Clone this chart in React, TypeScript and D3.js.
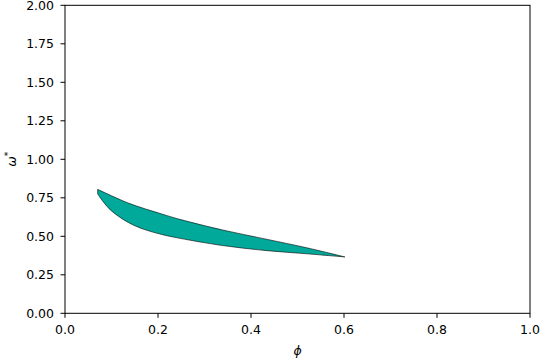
import React from "react";
import * as d3 from "d3";

const upperPhi = [0.0703, 0.136, 0.208, 0.247, 0.339, 0.43, 0.522, 0.602];
const upperOmega = [0.805, 0.716, 0.645, 0.61, 0.541, 0.483, 0.424, 0.366];
const lowerPhi = [0.0703, 0.082, 0.1, 0.136, 0.17, 0.208, 0.247, 0.339, 0.43, 0.522, 0.602];
const lowerOmega = [0.775, 0.725, 0.665, 0.59, 0.545, 0.512, 0.487, 0.44, 0.408, 0.386, 0.366];
const xTicks = [0, 0.2, 0.4, 0.6, 0.8, 1.0];
const yTicks = [0, 0.25, 0.5, 0.75, 1.0, 1.25, 1.5, 1.75, 2.0];

const W = 540, H = 360;
const L = 65, R = 530, T = 5.3, B = 313.3;
const FONT = "DejaVu Sans, sans-serif";
const FS = 12.5;

export default function App() {
  const x = d3.scaleLinear().domain([0, 1]).range([L, R]);
  const y = d3.scaleLinear().domain([0, 2]).range([B, T]);
  const up = upperPhi.map((p, i) => [p, upperOmega[i]] as [number, number]);
  const lo = lowerPhi.map((p, i) => [p, lowerOmega[i]] as [number, number]);
  const gen = d3.line<[number, number]>()
    .x(d => x(d[0]))
    .y(d => y(d[1]))
    .curve(d3.curveCatmullRom.alpha(0.5));
  const upPath = gen(up) as string;
  const loRevPath = (gen([...lo].reverse()) as string).replace(/^M[^LC]*/, "");
  const last = lo[lo.length - 1];
  const closed = upPath + "L" + x(last[0]) + "," + y(last[1]) + loRevPath + "Z";

  return (
    <svg width={W} height={H} style={{ position: "absolute", left: 0, top: 0, background: "white" }}>
      <path d={closed} fill="#00a99a" stroke="#000" strokeWidth={0.6} strokeLinejoin="round" />
      <rect x={L} y={T} width={R - L} height={B - T} fill="none" stroke="#000" strokeWidth={1} />
      {xTicks.map(t => (
        <g key={"x" + t}>
          <line x1={x(t)} x2={x(t)} y1={B} y2={B + 4.5} stroke="#000" strokeWidth={1} />
          <text x={x(t)} y={B + 20.5} textAnchor="middle" fontFamily={FONT} fontSize={FS} fill="#000">{t.toFixed(1)}</text>
        </g>
      ))}
      {yTicks.map(t => (
        <g key={"y" + t}>
          <line x1={L - 4.5} x2={L} y1={y(t)} y2={y(t)} stroke="#000" strokeWidth={1} />
          <text x={L - 11} y={y(t) + 4.6} textAnchor="end" fontFamily={FONT} fontSize={FS} fill="#000">{t.toFixed(2)}</text>
        </g>
      ))}
      <text x={(L + R) / 2} y={355} textAnchor="middle" fontFamily={FONT} fontSize={FS} fontStyle="italic" fill="#000">ϕ</text>
      <text transform={`translate(16,${(T + B) / 2}) rotate(-90)`} textAnchor="middle" fontFamily={FONT} fontSize={FS} fontStyle="italic" fill="#000">
        ω<tspan dy={-5} fontSize={9} fontStyle="normal">*</tspan>
      </text>
    </svg>
  );
}
